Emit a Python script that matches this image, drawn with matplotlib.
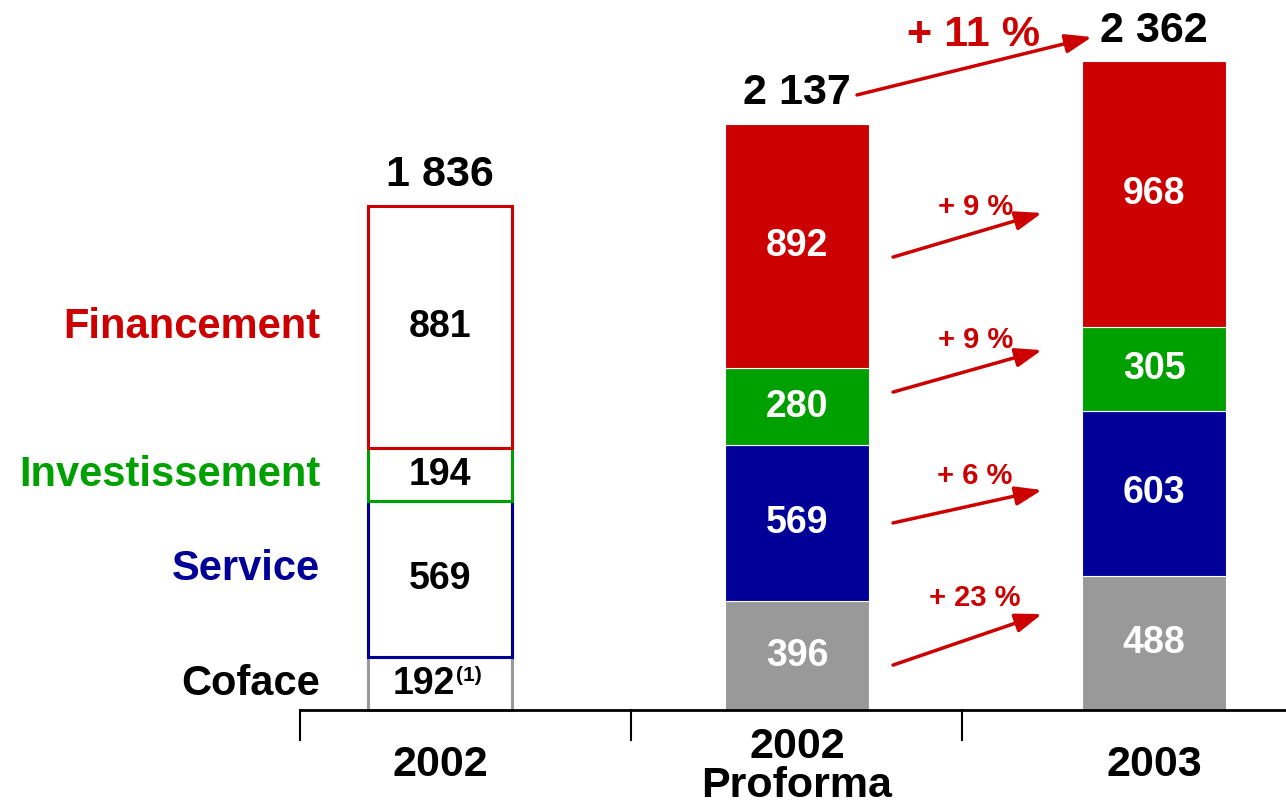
import matplotlib
matplotlib.use("Agg")
import matplotlib.pyplot as plt

plt.rcParams['font.family'] = ['Liberation Sans', 'DejaVu Sans']
plt.rcParams['font.weight'] = 'bold'

# data
segments = ["Coface", "Service", "Investissement", "Financement"]
categories = ["2002", "2002\nProforma", "2003"]
val_2002 = [192, 569, 194, 881]
val_proforma = [396, 569, 280, 892]
val_2003 = [488, 603, 305, 968]
totals = [1836, 2137, 2362]
seg_growth = ["+ 23 %", "+ 6 %", "+ 9 %", "+ 9 %"]
total_growth = "+ 11 %"

fill_colors = ["#999999", "#000099", "#00A000", "#CC0000"]
label_colors = ["#000000", "#000099", "#00A000", "#CC0000"]
red = "#CC0000"

fig = plt.figure(figsize=(12.86, 8.05), dpi=100)
ax = fig.add_axes([0, 0, 1, 1])
ax.set_xlim(-1.2325, 2.3697)
ax.set_ylim(-346, 2588)
ax.axis("off")

x = [0, 1, 2]
w = 0.406
arrow_style = "-|>,head_length=1.0,head_width=0.36"

# bar 1: hollow outlined boxes
bottom = 0
for v, c in zip(val_2002, fill_colors):
    ax.bar(x[0], v, w, bottom=bottom, facecolor="white", edgecolor=c, linewidth=2.2, zorder=2)
    bottom += v

# bars 2 and 3: filled
for xi, vals in zip(x[1:], [val_proforma, val_2003]):
    bottom = 0
    for v, c in zip(vals, fill_colors):
        ax.bar(xi, v, w, bottom=bottom, color=c, edgecolor="white", linewidth=0.8, zorder=2)
        ax.text(xi, bottom + v / 2, str(v), ha="center", va="center", color="white",
                fontsize=27, fontweight="bold", zorder=3)
        bottom += v

# values in the hollow bar + left labels
bottom = 0
for i, (v, name, lc) in enumerate(zip(val_2002, segments, label_colors)):
    yc = bottom + v / 2
    if i == 0:
        ax.text(x[0] + 0.042, yc, str(v), ha="right", va="center", fontsize=27, fontweight="bold")
        ax.text(x[0] + 0.045, yc + 30, "(1)", ha="left", va="center", fontsize=15, fontweight="bold")
    else:
        ax.text(x[0], yc, str(v), ha="center", va="center", fontsize=27, fontweight="bold")
    ax.text(-0.336, yc + (36 if name == "Service" else 0), name, ha="right", va="center",
            color=lc, fontsize=30, fontweight="bold")
    bottom += v

# totals
for xi, t in zip(x, totals):
    s = f"{t:,}".replace(",", " ")
    ax.text(xi, t + 73, s, ha="center", va="baseline", fontsize=31, fontweight="bold")

# growth arrows between bar 2 and bar 3
arrow_start = [164, 682, 1159, 1651]
arrow_end = [350, 802, 1312, 1812]
label_y = [408, 853, 1349, 1834]
for g, y0, y1, ly in zip(seg_growth, arrow_start, arrow_end, label_y):
    ax.annotate("", xy=(1.686, y1), xytext=(1.269, y0),
                arrowprops=dict(arrowstyle=arrow_style, color=red, lw=2.5, mutation_scale=16,
                                shrinkA=0, shrinkB=0))
    ax.text(1.499, ly, g, ha="center", va="center", color=red, fontsize=21, fontweight="bold")

# total growth arrow
ax.annotate("", xy=(1.826, 2453), xytext=(1.168, 2242),
            arrowprops=dict(arrowstyle=arrow_style, color=red, lw=2.5, mutation_scale=16,
                            shrinkA=0, shrinkB=0))
ax.text(1.493, 2461, total_growth, ha="center", va="center", color=red, fontsize=31, fontweight="bold")

# axis line with separators
ax.plot([-0.392, 2.37], [0, 0], color="black", lw=2, zorder=4, clip_on=False)
for tx in [-0.392, 0.535, 1.462]:
    ax.plot([tx, tx], [0, -109], color="black", lw=1.5, zorder=4)

# category labels
for xi, c in zip(x, categories):
    ax.text(xi, -205 if "\n" in c else -200, c, ha="center", va="center", fontsize=31,
            fontweight="bold", linespacing=0.95)

fig.savefig("out.png", dpi=100)
